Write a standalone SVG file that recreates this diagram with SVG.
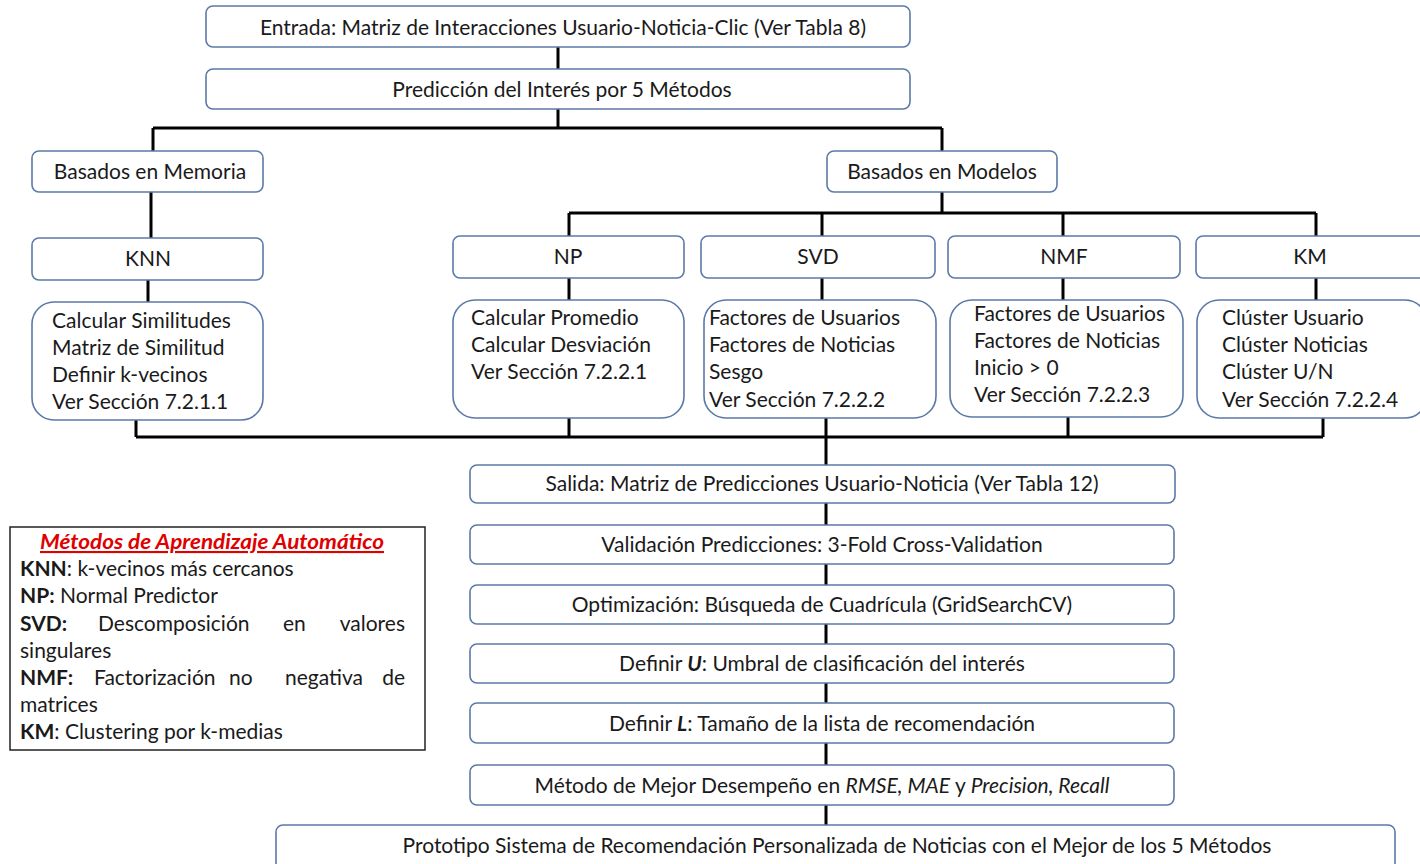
<svg xmlns="http://www.w3.org/2000/svg" width="1420" height="864" viewBox="0 0 1420 864">
<style>
.b{fill:#fff;stroke:#5b79a8;stroke-width:1.6}
.t{font-family:Lato,"Open Sans","Liberation Sans",sans-serif;font-size:21px;fill:#1a1a1a}
.c{text-anchor:middle}
.k{fill:none;stroke:#000;stroke-width:3}
.lg{fill:#fff;stroke:#222;stroke-width:1.5}
.bo{font-weight:bold}
</style>
<rect width="1420" height="864" fill="#fff"/>
<g id="connectors">
<path class="k" d="M558 47V69M558 109V128M153 128H942M153 128V151M942 128V151M151 192V238M148 280V302"/>
<path class="k" d="M942 192V213M569 213H1316M569 213V236M822 213V236M1063 213V236M1316 213V236"/>
<path class="k" d="M569 278V300M822 278V300M1063 278V300M1316 278V300"/>
<path class="k" d="M136 420V437M569 418V437M1068 417V437M1323 418V437M136 437H1323M826 418V465"/>
<path class="k" d="M826 503V525M826 564V585M826 624V644M826 683V703M826 743V765M826 805V825"/>
</g>
<g id="entrada"><rect class="b" x="206" y="6" width="704" height="41" rx="7"/><text class="t c" x="563" y="35">Entrada: Matriz de Interacciones Usuario-Noticia-Clic (Ver Tabla 8)</text></g>
<g id="prediccion"><rect class="b" x="206" y="69" width="704" height="40" rx="7"/><text class="t c" x="562" y="97">Predicción del Interés por 5 Métodos</text></g>
<g id="memoria"><rect class="b" x="32" y="151" width="231" height="41" rx="7"/><text class="t c" x="150" y="179">Basados en Memoria</text></g>
<g id="modelos"><rect class="b" x="827" y="151" width="230" height="41" rx="7"/><text class="t c" x="942" y="179">Basados en Modelos</text></g>
<g id="knn"><rect class="b" x="32" y="238" width="231" height="42" rx="7"/><text class="t c" x="148" y="266">KNN</text></g>
<g id="knn-det"><rect class="b" x="32" y="302" width="231" height="118" rx="22"/><text class="t" x="52" y="328">Calcular Similitudes</text><text class="t" x="52" y="355">Matriz de Similitud</text><text class="t" x="52" y="382">Definir k-vecinos</text><text class="t" x="52" y="409">Ver Sección 7.2.1.1</text></g>
<g id="np"><rect class="b" x="453" y="236" width="231" height="42" rx="7"/><text class="t c" x="568" y="264">NP</text></g>
<g id="np-det"><rect class="b" x="453" y="300" width="231" height="118" rx="22"/><text class="t" x="471" y="325">Calcular Promedio</text><text class="t" x="471" y="352">Calcular Desviación</text><text class="t" x="471" y="379">Ver Sección 7.2.2.1</text></g>
<g id="svd"><rect class="b" x="701" y="236" width="234" height="42" rx="7"/><text class="t c" x="818" y="264">SVD</text></g>
<g id="svd-det"><rect class="b" x="704" y="300" width="232" height="118" rx="22"/><text class="t" x="709" y="325">Factores de Usuarios</text><text class="t" x="709" y="352">Factores de Noticias</text><text class="t" x="709" y="379">Sesgo</text><text class="t" x="709" y="407">Ver Sección 7.2.2.2</text></g>
<g id="nmf"><rect class="b" x="948" y="236" width="232" height="42" rx="7"/><text class="t c" x="1064" y="264">NMF</text></g>
<g id="nmf-det"><rect class="b" x="950" y="300" width="233" height="117" rx="22"/><text class="t" x="974" y="321">Factores de Usuarios</text><text class="t" x="974" y="348">Factores de Noticias</text><text class="t" x="974" y="375">Inicio &gt; 0</text><text class="t" x="974" y="402">Ver Sección 7.2.2.3</text></g>
<g id="km"><rect class="b" x="1196" y="236" width="230" height="42" rx="7"/><text class="t c" x="1310" y="264">KM</text></g>
<g id="km-det"><rect class="b" x="1197" y="300" width="230" height="118" rx="22"/><text class="t" x="1222" y="325">Clúster Usuario</text><text class="t" x="1222" y="352">Clúster Noticias</text><text class="t" x="1222" y="379">Clúster U/N</text><text class="t" x="1222" y="407">Ver Sección 7.2.2.4</text></g>
<g id="salida"><rect class="b" x="470" y="465" width="705" height="38" rx="7"/><text class="t c" x="822" y="491">Salida: Matriz de Predicciones Usuario-Noticia (Ver Tabla 12)</text></g>
<g id="validacion"><rect class="b" x="470" y="525" width="704" height="39" rx="7"/><text class="t c" x="822" y="552">Validación Predicciones: 3-Fold Cross-Validation</text></g>
<g id="optimizacion"><rect class="b" x="470" y="585" width="704" height="39" rx="7"/><text class="t c" x="822" y="612">Optimización: Búsqueda de Cuadrícula (GridSearchCV)</text></g>
<g id="definir-u"><rect class="b" x="470" y="644" width="704" height="39" rx="7"/><text class="t c" x="822" y="671">Definir <tspan font-weight="bold" font-style="italic">U</tspan>: Umbral de clasificación del interés</text></g>
<g id="definir-l"><rect class="b" x="470" y="703" width="704" height="40" rx="7"/><text class="t c" x="822" y="731">Definir <tspan font-weight="bold" font-style="italic">L</tspan>: Tamaño de la lista de recomendación</text></g>
<g id="metodo"><rect class="b" x="470" y="765" width="704" height="40" rx="7"/><text class="t c" x="822" y="793">Método de Mejor Desempeño en <tspan font-style="italic">RMSE, MAE</tspan> y <tspan font-style="italic">Precision, Recall</tspan></text></g>
<g id="prototipo"><rect class="b" x="276" y="825" width="1119" height="45" rx="7"/><text class="t c" x="837" y="853">Prototipo  Sistema de Recomendación Personalizada de Noticias con el Mejor de los 5 Métodos</text></g>
<g id="leyenda"><rect class="lg" x="10" y="527" width="415" height="223"/>
<text class="t" x="40" y="549" textLength="344" lengthAdjust="spacingAndGlyphs" style="fill:#e00000;font-weight:bold;font-style:italic;text-decoration:underline">Métodos de Aprendizaje Automático</text>
<text class="t" x="20" y="576"><tspan class="bo">KNN</tspan>: k-vecinos más cercanos</text>
<text class="t" x="20" y="603"><tspan class="bo">NP:</tspan> Normal  Predictor</text>
<text class="t" x="20" y="631"><tspan class="bo">SVD:</tspan></text><text class="t" x="98" y="631">Descomposición</text><text class="t" x="283" y="631">en</text><text class="t" x="405" y="631" text-anchor="end">valores</text>
<text class="t" x="20" y="658">singulares</text>
<text class="t" x="20" y="685"><tspan class="bo">NMF:</tspan></text><text class="t" x="94" y="685">Factorización</text><text class="t" x="229" y="685">no</text><text class="t" x="285" y="685">negativa</text><text class="t" x="405" y="685" text-anchor="end">de</text>
<text class="t" x="20" y="712">matrices</text>
<text class="t" x="20" y="739"><tspan class="bo">KM</tspan>: Clustering por k-medias</text>
</g>
</svg>
